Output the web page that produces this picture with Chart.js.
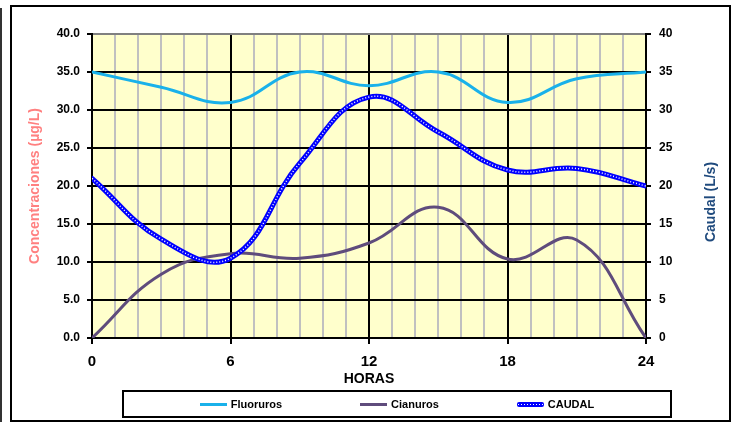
<!DOCTYPE html>
<html>
<head>
<meta charset="utf-8">
<script src="https://cdn.jsdelivr.net/npm/chart.js@4/dist/chart.umd.min.js"></script>
<style>
    body { margin: 0; background: #fff; }
    #wrap { position: relative; width: 731px; height: 427px; }
    #chart { position: absolute; left: 0; top: 0; }
    .frame { position: absolute; left: 10px; top: 5px; width: 721px; height: 417px; box-sizing: border-box; border: 2px solid #000; pointer-events: none; }
    .edge { position: absolute; left: 0; top: 8px; width: 2px; height: 414px; background: #333; }
    #legend { position: absolute; left: 122px; top: 390px; width: 550px; height: 28px; box-sizing: border-box; border: 2px solid #000;
        display: flex; justify-content: center; align-items: center; gap: 78px;
        font: bold 11px Arial, "Liberation Sans", sans-serif; color: #000; }
    #legend .item { display: flex; align-items: center; }
    #legend .sample { width: 27px; margin-right: 4px; position: relative; }
</style>
</head>
<body>
<div id="wrap">
    <canvas id="chart" width="731" height="427"></canvas>
    <div class="frame"></div>
    <div class="edge"></div>
    <div id="legend"></div>
</div>
<script>
// datos
var horas = [0, 3, 6, 9, 12, 15, 18, 21, 24];
var fluoruros = [35, 33, 31, 35, 33.2, 35, 31, 34.1, 35];
var cianuros = [0, 8.4, 11.1, 10.5, 12.5, 17.2, 10.4, 12.9, 0];
var caudal = [21, 13, 10.5, 23, 31.7, 27.1, 22.1, 22.3, 20];
var ticksX = [0, 6, 12, 18, 24];

function puntos(valores) {
    var out = [];
    for (var i = 0; i < horas.length; i++) {
        out.push({ x: horas[i], y: valores[i] });
    }
    return out;
}

var font = 'Arial, "Liberation Sans", sans-serif';

var fondoPlugin = {
    id: 'fondo',
    beforeDraw: function(chart) {
        var a = chart.chartArea, ctx = chart.ctx;
        ctx.save();
        ctx.fillStyle = '#FFFFCC';
        ctx.fillRect(a.left, a.top, a.right - a.left, a.bottom - a.top);
        ctx.restore();
    },
    afterDraw: function(chart) {
        // titulo del eje derecho, leido de abajo hacia arriba
        var ctx = chart.ctx;
        ctx.save();
        ctx.translate(711, 202);
        ctx.rotate(-Math.PI / 2);
        ctx.font = 'bold 14px ' + font;
        ctx.fillStyle = '#1F4A7D';
        ctx.textAlign = 'center';
        ctx.textBaseline = 'middle';
        ctx.fillText('Caudal (L/s)', 0, 0);
        ctx.restore();
    }
};

var ctx = document.getElementById('chart').getContext('2d');
var chart = new Chart(ctx, {
    type: 'line',
    data: {
        datasets: [{
            label: 'Fluoruros',
            data: puntos(fluoruros),
            borderColor: '#19B1EA',
            borderWidth: 3,
            yAxisID: 'y',
            order: 3
        }, {
            label: 'Cianuros',
            data: puntos(cianuros),
            borderColor: '#5F4C7C',
            borderWidth: 3,
            yAxisID: 'y',
            order: 2
        }, {
            label: 'CAUDAL',
            data: puntos(caudal),
            borderColor: '#0000FF',
            borderWidth: 5,
            yAxisID: 'y2',
            order: 1
        }, {
            // puntos blancos sobre la linea de caudal
            label: '',
            data: puntos(caudal),
            borderColor: '#FFFFFF',
            borderWidth: 1.5,
            borderDash: [1, 2],
            borderCapStyle: 'butt',
            yAxisID: 'y2',
            order: 0
        }]
    },
    options: {
        responsive: false,
        animation: false,
        events: [],
        layout: { padding: { left: 0, right: 0, top: 34, bottom: 41 } },
        elements: {
            point: { radius: 0 },
            line: { tension: 0.42, fill: false, borderCapStyle: 'round' }
        },
        plugins: {
            legend: { display: false },
            tooltip: { enabled: false }
        },
        scales: {
            x: {
                type: 'linear',
                min: 0,
                max: 24,
                afterFit: function(scale) { scale.height = 48; },
                ticks: {
                    stepSize: 1,
                    autoSkip: false,
                    maxRotation: 0,
                    padding: 9,
                    color: '#000',
                    font: { family: font, size: 15, weight: 'bold' },
                    callback: function(v) { return ticksX.indexOf(v) >= 0 ? v : ''; }
                },
                grid: {
                    lineWidth: 2,
                    tickLength: 6,
                    color: function(c) { return c.tick && c.tick.value % 6 === 0 ? '#000' : '#C0C0C0'; },
                    tickColor: function(c) { return c.tick && c.tick.value % 6 === 0 ? '#000' : 'rgba(0,0,0,0)'; }
                },
                border: { color: '#000', width: 2 },
                title: {
                    display: true,
                    text: 'HORAS',
                    color: '#000',
                    font: { family: font, size: 14, weight: 'bold' },
                    padding: { top: 0, bottom: -2 }
                }
            },
            y: {
                position: 'left',
                min: 0,
                max: 40,
                afterFit: function(scale) { scale.width = 92; },
                ticks: {
                    stepSize: 5,
                    padding: 7,
                    color: '#000',
                    font: { family: font, size: 12, weight: 'bold' },
                    callback: function(v) { return v.toFixed(1); }
                },
                grid: {
                    lineWidth: 2,
                    tickLength: 5,
                    color: function(c) { return c.tick && c.tick.value === 40 ? '#808080' : '#000'; },
                    tickColor: '#000'
                },
                border: { color: '#000', width: 2 },
                title: {
                    display: true,
                    text: 'Concentraciones (µg/L)',
                    color: '#FF8080',
                    font: { family: font, size: 14, weight: 'bold' },
                    padding: { top: 27, bottom: 0 }
                }
            },
            y2: {
                position: 'right',
                min: 0,
                max: 40,
                afterFit: function(scale) { scale.width = 85; },
                ticks: {
                    stepSize: 5,
                    padding: 8,
                    color: '#000',
                    font: { family: font, size: 12, weight: 'bold' }
                },
                grid: {
                    drawOnChartArea: false,
                    lineWidth: 2,
                    tickLength: 5,
                    color: '#000'
                },
                border: { color: '#000', width: 2 }
            }
        }
    },
    plugins: [fondoPlugin]
});

// leyenda en html con recuadro, como en el original
var legend = document.getElementById('legend');
chart.data.datasets.forEach(function(ds) {
    if (!ds.label) return;
    var item = document.createElement('div');
    item.className = 'item';
    var sample = document.createElement('span');
    sample.className = 'sample';
    sample.style.height = ds.borderWidth + 'px';
    sample.style.background = ds.borderColor;
    if (ds.label === 'CAUDAL') {
        sample.style.height = '5px';
        sample.style.borderRadius = '2px';
        var dots = document.createElement('span');
        dots.style.cssText = 'position:absolute;left:1px;right:1px;top:2px;height:1px;' +
            'background:repeating-linear-gradient(90deg,#fff 0 1px,transparent 1px 3px);';
        sample.appendChild(dots);
    }
    var text = document.createElement('span');
    text.textContent = ds.label;
    item.appendChild(sample);
    item.appendChild(text);
    legend.appendChild(item);
});
</script>
</body>
</html>
